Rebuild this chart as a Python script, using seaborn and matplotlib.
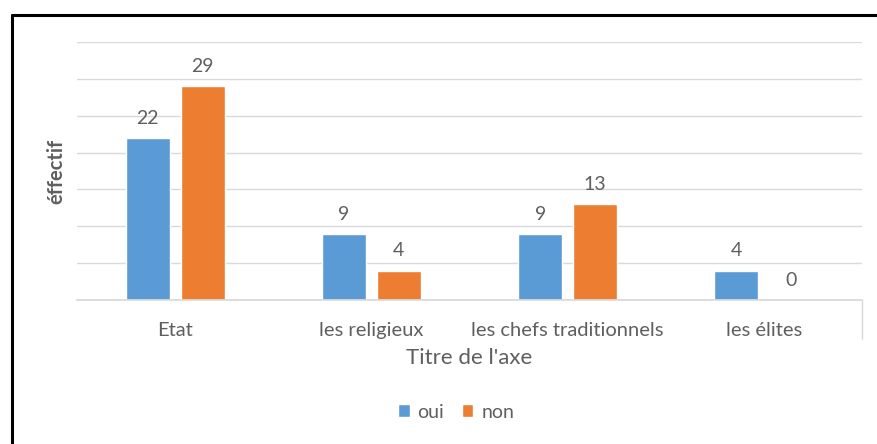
import matplotlib
matplotlib.use('Agg')
import matplotlib.pyplot as plt
from matplotlib.lines import Line2D
import pandas as pd
import seaborn as sns

categories = ['Etat', 'les religieux', 'les chefs traditionnels', 'les élites']
oui = [22, 9, 9, 4]
non = [29, 4, 13, 0]
series = ['oui', 'non']
colors = ['#5B9BD5', '#ED7D31']

df = pd.DataFrame({
    'categorie': categories * 2,
    'reponse': ['oui'] * len(categories) + ['non'] * len(categories),
    'effectif': oui + non,
})

sns.set_theme(style='white')
plt.rcParams['font.family'] = ['Lato', 'DejaVu Sans']
text_gray = '#5f5f5f'

fig = plt.figure(figsize=(8.78, 4.44), dpi=100)
ax = fig.add_axes([77 / 878, 1 - 300 / 444, 785 / 878, 258 / 444])

sns.barplot(data=df, x='categorie', y='effectif', hue='reponse',
            hue_order=series, palette=colors, width=0.56, gap=0.2,
            order=categories, ax=ax, saturation=1)

for c in ax.containers:
    ax.bar_label(c, padding=8, fontsize=14, color=text_gray)

ax.set_ylim(0, 35)
ax.set_yticks(range(0, 36, 5))
ax.yaxis.grid(True, color='#D9D9D9', lw=1)
ax.set_axisbelow(True)
ax.tick_params(axis='y', left=False, labelleft=False)
ax.tick_params(axis='x', bottom=False, labelsize=14.5, labelcolor=text_gray, pad=10)
for s in ['top', 'right', 'left']:
    ax.spines[s].set_visible(False)
ax.spines['bottom'].set_color('#D9D9D9')

# small boundary tick at the right end of the category axis
ax.add_artist(Line2D([1, 1], [0, -0.15], transform=ax.transAxes, color='#D9D9D9',
                     lw=1, clip_on=False))
ax.set_xlim(-0.5, len(categories) - 0.5)

ax.set_xlabel("Titre de l'axe", fontsize=16, color=text_gray, labelpad=6)
ax.set_ylabel('éffectif', fontsize=14.5, color=text_gray, fontweight='bold', labelpad=8)

leg = ax.legend(loc='center', bbox_to_anchor=(456 / 878, 1 - 412 / 444),
                bbox_transform=fig.transFigure, ncol=2, frameon=False,
                fontsize=14, handlelength=0.6, handleheight=0.6,
                handletextpad=0.4, columnspacing=0.9)
for t in leg.get_texts():
    t.set_color(text_gray)

# outer frame (only top and left visible in the crop)
fig.add_artist(Line2D([12 / 878, 1], [1 - 15 / 444] * 2, color='black', lw=2.2))
fig.add_artist(Line2D([12 / 878] * 2, [0, 1 - 15 / 444], color='black', lw=2.2))

fig.savefig('out.png', dpi=100)
